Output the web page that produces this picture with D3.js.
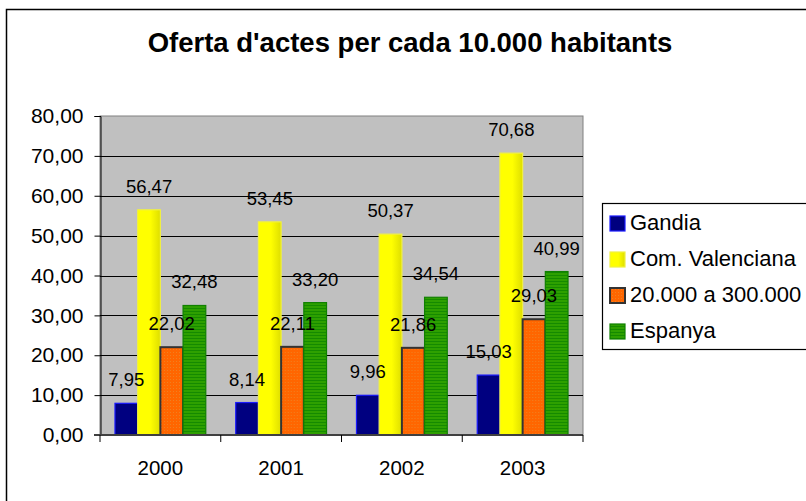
<!DOCTYPE html>
<html>
<head>
<meta charset="utf-8">
<script src="https://cdn.jsdelivr.net/npm/d3@7"></script>
<style>
  body { margin: 0; background: #fff; }
  svg { display: block; font-family: Arial, "Liberation Sans", sans-serif; }
</style>
</head>
<body>
<svg id="chart" width="806" height="501"></svg>
<script>
// data
var years = ["2000", "2001", "2002", "2003"];
var seriesNames = ["Gandia", "Com. Valenciana", "20.000 a 300.000", "Espanya"];
var gandia = [7.95, 8.14, 9.96, 15.03];
var comValenciana = [56.47, 53.45, 50.37, 70.68];
var ciutats = [22.02, 22.11, 21.86, 29.03];
var espanya = [32.48, 33.20, 34.54, 40.99];
var yTicks = [0, 10, 20, 30, 40, 50, 60, 70, 80];

var allSeries = [gandia, comValenciana, ciutats, espanya];

var svg = d3.select("#chart");
var defs = svg.append("defs");

// yellow bar - slight gradient to the right
var grad = defs.append("linearGradient").attr("id", "yel").attr("x1", "0").attr("x2", "1").attr("y1", "0").attr("y2", "0");
grad.append("stop").attr("offset", "0").attr("stop-color", "#ffff00");
grad.append("stop").attr("offset", "0.55").attr("stop-color", "#ffff00");
grad.append("stop").attr("offset", "1").attr("stop-color", "#dede00");

// orange dotted pattern
var po = defs.append("pattern").attr("id", "ora").attr("width", 3).attr("height", 3).attr("patternUnits", "userSpaceOnUse");
po.append("rect").attr("width", 3).attr("height", 3).attr("fill", "#ff6600");
po.append("rect").attr("x", 1).attr("y", 1).attr("width", 1).attr("height", 1).attr("fill", "#f08020");

// green striped pattern
var pg = defs.append("pattern").attr("id", "gre").attr("width", 4).attr("height", 3).attr("patternUnits", "userSpaceOnUse");
pg.append("rect").attr("width", 4).attr("height", 3).attr("fill", "#2ea000");
pg.append("rect").attr("y", 2).attr("width", 4).attr("height", 1).attr("fill", "#158a00");

var fills = ["#000080", "url(#yel)", "url(#ora)", "url(#gre)"];
var strokes = ["#1a1aff", "#f0f040", "#333333", "#108000"];

// outer chart border (runs off the right / bottom)
svg.append("rect")
  .attr("x", 6.5).attr("y", 9.5)
  .attr("width", 820).attr("height", 520)
  .attr("fill", "#fff").attr("stroke", "#000").attr("stroke-width", 1.5);

svg.append("text")
  .attr("x", 410).attr("y", 52)
  .attr("text-anchor", "middle")
  .attr("font-size", 27.5).attr("font-weight", "bold")
  .text("Oferta d'actes per cada 10.000 habitants");

var x0 = d3.scaleBand().domain(years).range([100, 583]).paddingInner(0).paddingOuter(0);
var x1 = d3.scaleBand().domain(d3.range(4)).range([0, x0.bandwidth()]).paddingOuter(0.66).paddingInner(0);
var y = d3.scaleLinear().domain([0, 80]).range([435, 116]);

// plot area
svg.append("rect")
  .attr("x", 100).attr("y", y(80))
  .attr("width", 583 - 100).attr("height", y(0) - y(80))
  .attr("fill", "#c0c0c0").attr("stroke", "#808080").attr("stroke-width", 1);

// gridlines
svg.append("g").selectAll("line")
  .data(yTicks.filter(function(d){ return d > 0 && d < 80; }))
  .enter().append("line")
  .attr("x1", 100).attr("x2", 583)
  .attr("y1", function(d){ return Math.round(y(d)) + 0.5; })
  .attr("y2", function(d){ return Math.round(y(d)) + 0.5; })
  .attr("stroke", "#000").attr("stroke-width", 1);

// bars
var groups = svg.append("g").selectAll("g")
  .data(years).enter().append("g")
  .attr("transform", function(d){ return "translate(" + x0(d) + ",0)"; });

groups.selectAll("rect")
  .data(function(d, i){ return allSeries.map(function(s, k){ return {k: k, v: s[i]}; }); })
  .enter().append("rect")
  .attr("x", function(d){ return x1(d.k); })
  .attr("y", function(d){ return y(d.v); })
  .attr("width", x1.bandwidth())
  .attr("height", function(d){ return y(0) - y(d.v); })
  .attr("fill", function(d){ return fills[d.k]; })
  .attr("stroke", function(d){ return strokes[d.k]; })
  .attr("stroke-width", function(d){ return d.k == 2 ? 2 : 1.2; });

// value labels
groups.selectAll("text")
  .data(function(d, i){ return allSeries.map(function(s, k){ return {k: k, v: s[i]}; }); })
  .enter().append("text")
  .attr("x", function(d){ return x1(d.k) + x1.bandwidth() / 2; })
  .attr("y", function(d){ return y(d.v) - 17; })
  .attr("text-anchor", "middle")
  .attr("font-size", 18.5)
  .text(function(d){ return d.v.toFixed(2).replace(".", ","); });

// y axis
var yAxis = d3.axisLeft(y).tickValues(yTicks).tickSize(6).tickPadding(11)
  .tickFormat(function(d){ return d.toFixed(2).replace(".", ","); });
var ya = svg.append("g").attr("transform", "translate(100.5,0)").call(yAxis);
ya.select(".domain").attr("stroke", "#000");
ya.selectAll("text").attr("font-size", 21).attr("font-family", "Arial, 'Liberation Sans', sans-serif").attr("fill", "#000");

// x axis
var xa = svg.append("g").attr("transform", "translate(0,435)");
xa.append("line").attr("x1", 94).attr("x2", 583).attr("y1", 0).attr("y2", 0)
  .attr("stroke", "#404040").attr("stroke-width", 2);
xa.selectAll("line.tk")
  .data(years.concat(["end"])).enter().append("line").attr("class", "tk")
  .attr("x1", function(d){ return d == "end" ? 583 : x0(d); })
  .attr("x2", function(d){ return d == "end" ? 583 : x0(d); })
  .attr("y1", 0).attr("y2", 7).attr("stroke", "#000");
xa.selectAll("text")
  .data(years).enter().append("text")
  .attr("x", function(d){ return x0(d) + x0.bandwidth() / 2; })
  .attr("y", 40)
  .attr("text-anchor", "middle")
  .attr("font-size", 20.5)
  .text(function(d){ return d; });

// legend
var lg = svg.append("g").attr("transform", "translate(602,203)");
lg.append("rect").attr("x", 0.5).attr("y", 0.5).attr("width", 230).attr("height", 146)
  .attr("fill", "#fff").attr("stroke", "#000").attr("stroke-width", 1.2);
var li = lg.selectAll("g.it").data(seriesNames).enter().append("g").attr("class", "it")
  .attr("transform", function(d, i){ return "translate(0," + (13 + i * 36) + ")"; });
li.append("rect")
  .attr("x", 8).attr("y", 0).attr("width", 15).attr("height", 15)
  .attr("fill", function(d, i){ return fills[i]; })
  .attr("stroke", function(d, i){ return strokes[i]; })
  .attr("stroke-width", function(d, i){ return i == 2 ? 2 : 1.2; });
li.append("text")
  .attr("x", 28).attr("y", 14)
  .attr("font-size", 22)
  .text(function(d){ return d; });
</script>
</body>
</html>
